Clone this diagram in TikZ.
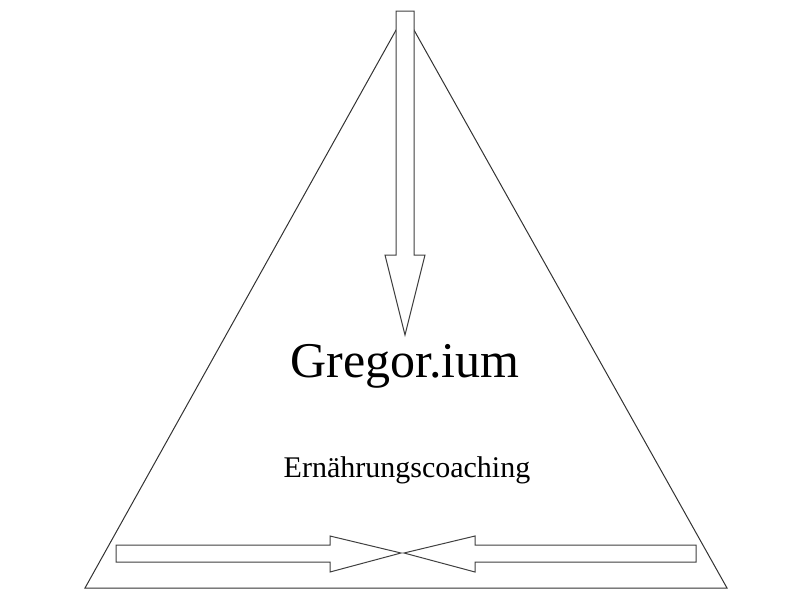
\documentclass[tikz,border=0pt]{standalone}
\usepackage{fontspec}
\setmainfont{Liberation Serif}
\begin{document}
\begin{tikzpicture}[x=1pt,y=-1pt,line join=miter,
  arrowshape/.style={draw=black!75,line width=1pt,fill=white}]
\useasboundingbox (0,0) rectangle (800,600);
\coordinate (apex) at (405,14);
\coordinate (bl) at (85,588);
\coordinate (br) at (727,588);
\draw[line width=1pt,black!80] (apex) -- (bl) -- (br) -- cycle;
\draw[arrowshape] (396,11) -- (414,11) -- (414,255) -- (425,255) -- (405,335) -- (385,255) -- (396,255) -- cycle;
\draw[arrowshape] (116,545) -- (330,545) -- (330,536) -- (401,553) -- (330,572) -- (330,562) -- (116,562) -- cycle;
\draw[arrowshape] (696,545) -- (475,545) -- (475,536) -- (404,553) -- (475,572) -- (475,562) -- (696,562) -- cycle;
\node (t1) at (405,366) {\fontsize{50}{56}\selectfont Gregor.ium};
\node (t2) at (407,470) {\fontsize{30}{34}\selectfont Ernährungscoaching};
\end{tikzpicture}
\end{document}
